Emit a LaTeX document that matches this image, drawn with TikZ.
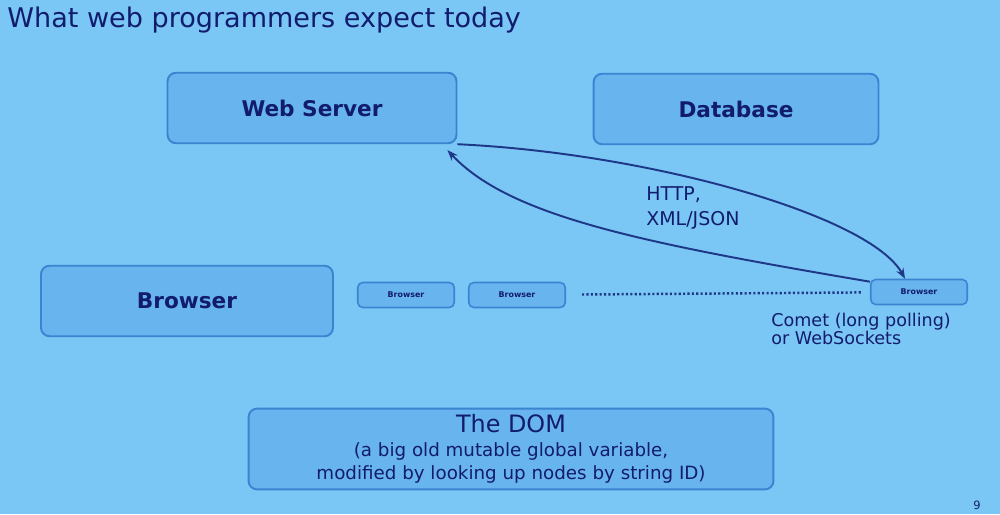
\documentclass[tikz,border=0pt]{standalone}
\usepackage{fontspec}
\setmainfont{DejaVu Sans}
\usepackage{tikz}
\usetikzlibrary{arrows.meta}
\definecolor{slidebg}{RGB}{122,198,244}
\definecolor{boxfill}{RGB}{104,180,238}
\definecolor{boxline}{RGB}{58,132,210}
\definecolor{ink}{RGB}{18,28,110}
\definecolor{arrowink}{RGB}{30,55,135}

\begin{document}
\begin{tikzpicture}[x=0.02cm,y=0.02cm]
        \tikzstyle{box}=[rectangle,draw=boxline,fill=boxfill,line width=1.1pt,rounded corners=0.17cm,text=ink]
        \tikzstyle{bigbox}=[box,minimum height=1.41cm,font=\fontsize{12.3}{14}\selectfont\bfseries]
        \tikzstyle{tinybox}=[box,line width=0.9pt,rounded corners=0.1cm,minimum width=1.93cm,minimum height=0.5cm,font=\fontsize{4.5}{5}\selectfont\bfseries]
        \tikzstyle{note}=[text=ink,align=left,inner sep=0pt]
        \tikzstyle{link}=[draw=arrowink,line width=1.1pt,-{Stealth[length=6pt,width=4.5pt]}]
          \fill[slidebg] (0,0) rectangle (1000,514);
          \useasboundingbox (0,0) rectangle (1000,514);
          \node (title) at (7,494) [note,anchor=west,font=\fontsize{15.4}{17}\selectfont] {What web programmers expect today};
          \node (server) at (312,406) [bigbox,minimum width=5.78cm] {Web Server};
          \node (database) at (736,405) [bigbox,minimum width=5.7cm] {Database};
          \node (browser) at (187,213) [bigbox,minimum width=5.84cm] {Browser};
          \node (b1) at (406,219) [tinybox] {Browser};
          \node (b2) at (517,219) [tinybox] {Browser};
          \node (b3) at (919,222) [tinybox] {Browser};
          \node (dom) at (511,65) [box,minimum width=10.5cm,minimum height=1.5cm,align=center,font=\fontsize{10.4}{13.4}\selectfont] {{\fontsize{13.6}{16}\selectfont The DOM}\\(a big old mutable global variable,\\modified by looking up nodes by string ID)};
          \node (http) at (646,306) [note,anchor=west,font=\fontsize{10.8}{14}\selectfont] {HTTP,\\XML/JSON};
          \node (comet) at (771,185) [note,anchor=west,font=\fontsize{10}{10.5}\selectfont] {Comet (long polling)\\or WebSockets};
          \node (pagenum) at (977,9) [note,font=\fontsize{6.5}{7}\selectfont] {9};
          \draw [link] (server.south east) .. controls +(193,-9) and +(-35,63) .. ([xshift=-0.28cm]b3.north);
          \draw [link] ([yshift=-0.06cm]b3.north west) .. controls +(-230,39) and +(62,-66) .. ([xshift=-0.2cm,yshift=-0.12cm]server.south east);
          \draw [arrowink,line width=1.4pt,dash pattern=on 1.2pt off 1.3pt,shorten <=0.32cm,shorten >=0.18cm] (b2) -- (b3);
      \end{tikzpicture}
\end{document}
